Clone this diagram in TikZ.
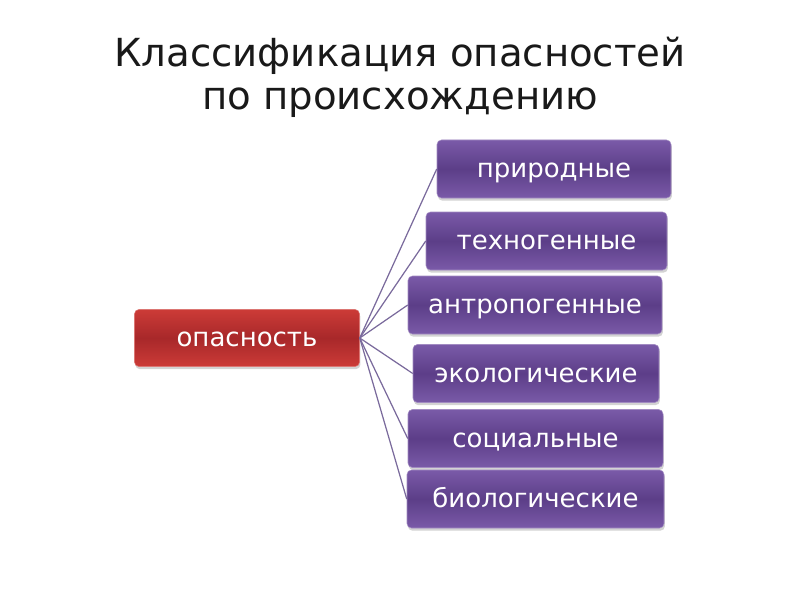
\documentclass[tikz,border=0pt]{standalone}
\usepackage{fontspec}
\setmainfont{DejaVu Sans}
\usetikzlibrary{shadows}
\definecolor{redtop}{HTML}{CC3B37}
\definecolor{redmid}{HTML}{A8282A}
\definecolor{purtop}{HTML}{7A5AA8}
\definecolor{purmid}{HTML}{5C3E88}
\definecolor{linkcol}{HTML}{7A6A9C}
\tikzset{
    every node/.append style={font=\fontsize{14.8}{17}\selectfont}}
\begin{document}
\begin{tikzpicture}
  [box/.style={rectangle,rounded corners=2.5pt,minimum height=1.16cm,text=white,
     text height=9.8pt,text depth=0pt,
     draw=purtop!70!white,line width=0.3pt,
     top color=purtop,bottom color=purtop,middle color=purmid,
     drop shadow={opacity=0.35,shadow xshift=0.5pt,shadow yshift=-1.5pt}},
   mainbox/.style={box,draw=redtop!70!white,top color=redtop,bottom color=redtop,middle color=redmid}]
  \useasboundingbox (0,0) rectangle (16,12);
  \node [align=center,text=black!90,font=\fontsize{22}{24.5}\selectfont] (title) at (8,10.46)
    {Классификация опасностей\\по происхождению};
  \node [mainbox,minimum width=4.5cm,minimum height=1.14cm] (n0) at (4.94,5.24) {опасность};
  \node [box,minimum width=4.68cm] (n1) at (11.08,8.62) {природные};
  \node [box,minimum width=4.82cm] (n2) at (10.93,7.18) {техногенные};
  \node [box,minimum width=5.08cm] (n3) at (10.70,5.90) {антропогенные};
  \node [box,minimum width=4.92cm] (n4) at (10.72,4.53) {экологические};
  \node [box,minimum width=5.10cm] (n5) at (10.71,3.23) {социальные};
  \node [box,minimum width=5.14cm] (n6) at (10.71,2.02) {биологические};

  \foreach \to in {n1,n2,n3,n4,n5,n6}
    \draw [linkcol,line width=0.7pt] (n0.east) -- (\to.west);
\end{tikzpicture}
\end{document}
